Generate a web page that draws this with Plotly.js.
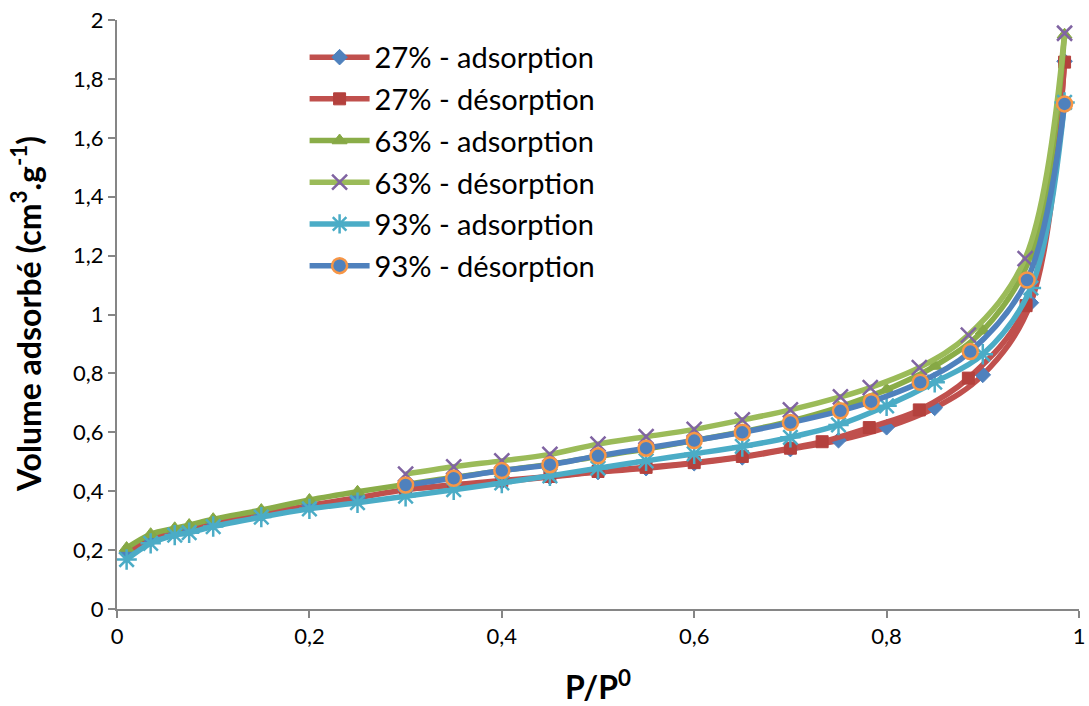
<!DOCTYPE html>
<html>
<head>
<meta charset="utf-8">
<script src="https://cdn.plot.ly/plotly-3.0.1.min.js"></script>
<style>html,body{margin:0;padding:0;background:#fff;}#chart{width:1089px;height:706px;}</style>
</head>
<body>
<div id="chart"></div>
<script>
// Data
var seriesNames = ["27% - adsorption","27% - désorption","63% - adsorption","63% - désorption","93% - adsorption","93% - désorption"];

var x27a = [0.01,0.035,0.06,0.075,0.1,0.15,0.2,0.25,0.3,0.35,0.4,0.45,0.5,0.55,0.6,0.65,0.7,0.75,0.8,0.85,0.9,0.95,0.985];
var y27a = [0.19,0.236,0.262,0.272,0.293,0.322,0.352,0.378,0.405,0.42,0.433,0.448,0.465,0.478,0.495,0.515,0.543,0.573,0.617,0.683,0.795,1.04,1.86];

var x27d = [0.985,0.945,0.885,0.834,0.782,0.733,0.7,0.65,0.6,0.55,0.5,0.45,0.4,0.35,0.3];
var y27d = [1.857,1.03,0.784,0.676,0.616,0.568,0.546,0.518,0.497,0.481,0.467,0.45,0.436,0.422,0.407];

var x63a = [0.01,0.035,0.06,0.075,0.1,0.15,0.2,0.25,0.3,0.35,0.4,0.45,0.5,0.55,0.6,0.65,0.7,0.75,0.8,0.85,0.9,0.95,0.985];
var y63a = [0.207,0.254,0.274,0.285,0.305,0.336,0.37,0.398,0.423,0.447,0.47,0.492,0.518,0.543,0.572,0.602,0.638,0.685,0.745,0.825,0.945,1.2,1.95];

var x63d = [0.985,0.944,0.885,0.834,0.783,0.752,0.7,0.65,0.6,0.55,0.5,0.45,0.4,0.35,0.3];
var y63d = [1.955,1.19,0.93,0.82,0.752,0.72,0.676,0.642,0.61,0.585,0.56,0.525,0.503,0.483,0.458];

var x93a = [0.01,0.035,0.06,0.075,0.1,0.15,0.2,0.25,0.3,0.35,0.4,0.45,0.5,0.55,0.6,0.65,0.7,0.75,0.8,0.85,0.9,0.95,0.985];
var y93a = [0.168,0.223,0.251,0.259,0.28,0.312,0.34,0.361,0.383,0.405,0.428,0.452,0.478,0.503,0.527,0.552,0.583,0.625,0.69,0.77,0.865,1.09,1.72];

var x93d = [0.985,0.946,0.887,0.835,0.784,0.752,0.7,0.65,0.6,0.55,0.5,0.45,0.4,0.35,0.3];
var y93d = [1.715,1.117,0.874,0.77,0.704,0.673,0.633,0.6,0.572,0.546,0.52,0.49,0.47,0.444,0.421];

var xTickVals = [0,0.2,0.4,0.6,0.8,1];
var yTickVals = [0,0.2,0.4,0.6,0.8,1,1.2,1.4,1.6,1.8,2];

var xTitle = '<b>P/P<sup>0</sup></b>';
var yTitle = '<b>Volume adsorbé (cm<sup>3</sup>.g<sup>-1</sup>)</b>';

function tr(i, xs, ys, lineColor, sym, mColor, mLine, mLineW, mSize) {
  return {
    x: xs, y: ys, name: seriesNames[i], type: 'scatter', mode: 'lines+markers',
    legendgroup: 'g' + i,
    line: {color: lineColor, width: 5.5, shape: 'spline', smoothing: 1},
    marker: {symbol: sym, color: mColor, size: mSize, line: {color: mLine, width: mLineW}}
  };
}

var data = [
  tr(0, x27a, y27a, '#C0504D', 'diamond', '#4F81BD', '#4F81BD', 1, 12),
  tr(1, x27d, y27d, '#C0504D', 'square', '#B4413D', '#B4413D', 1, 12),
  tr(2, x63a, y63a, '#8AAD48', 'triangle-up', '#86A845', '#86A845', 1, 13),
  tr(3, x63d, y63d, '#9BBB59', 'x-thin-open', '#8064A2', '#8064A2', 2.5, 15),
  tr(4, x93a, y93a, '#4BACC6', 'asterisk-open', '#4BACC6', '#4BACC6', 2.5, 17),
  tr(5, x93d, y93d, '#4F81BD', 'circle', '#4F81BD', '#F79646', 2.5, 15)
];

var fontFam = 'Lato, "Open Sans", sans-serif';

var layout = {
  width: 1089, height: 706,
  margin: {l: 117, r: 10, t: 20, b: 97},
  paper_bgcolor: '#ffffff', plot_bgcolor: '#ffffff',
  separators: ', ',
  font: {family: fontFam, color: '#000000', size: 22},
  showlegend: true,
  legend: {
    x: 0.195, y: 0.98, xanchor: 'left', yanchor: 'top',
    font: {family: fontFam, size: 29, color: '#000'},
    bgcolor: 'rgba(0,0,0,0)', tracegroupgap: 1, itemwidth: 60
  },
  xaxis: {
    range: [0, 1], tickvals: xTickVals, ticks: 'outside', ticklen: 7, tickwidth: 2, tickcolor: '#868686',
    showline: true, linecolor: '#868686', linewidth: 2, showgrid: false, zeroline: false,
    tickfont: {family: fontFam, size: 22, color: '#000'},
    title: {text: xTitle, font: {family: fontFam, size: 32, color: '#000'}, standoff: 32}
  },
  yaxis: {
    range: [0, 2], tickvals: yTickVals, ticks: 'outside', ticklen: 7, tickwidth: 2, tickcolor: '#868686',
    showline: true, linecolor: '#868686', linewidth: 2, showgrid: false, zeroline: false,
    tickfont: {family: fontFam, size: 22, color: '#000'}
  },
  annotations: [{
    text: yTitle, xref: 'paper', yref: 'paper', x: -0.095, y: 0.5,
    xanchor: 'center', yanchor: 'middle', textangle: -90, showarrow: false,
    font: {family: fontFam, size: 32, color: '#000'}
  }]
};

Plotly.newPlot('chart', data, layout, {displayModeBar: false, staticPlot: true});
</script>
</body>
</html>
